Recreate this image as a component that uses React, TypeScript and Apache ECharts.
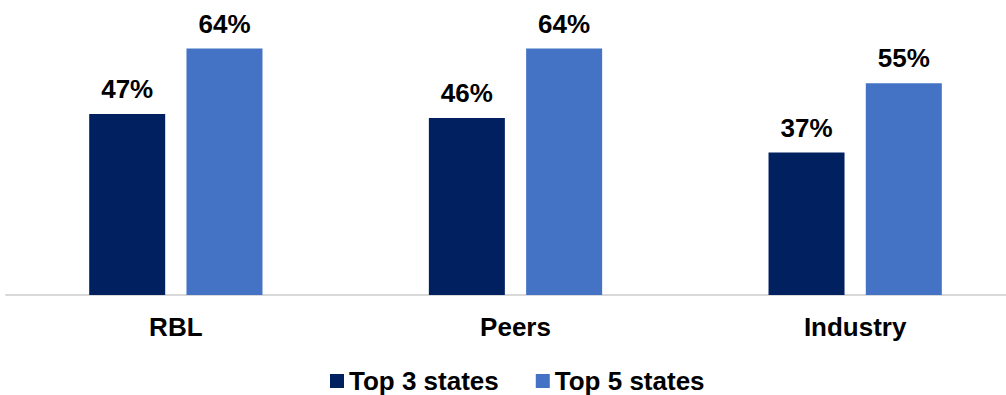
import React, { useEffect, useRef } from "react";
import * as echarts from "echarts";

const categories = ["RBL", "Peers", "Industry"];
const top3States = [47, 46, 37];
const top5States = [64, 64, 55];
const seriesNames = ["Top 3 states", "Top 5 states"];

export default function App() {
  const ref = useRef<HTMLDivElement>(null);
  useEffect(() => {
    if (!ref.current) return;
    const chart = echarts.init(ref.current, null, { renderer: "svg" });
    const font = "'Liberation Sans', Arial, sans-serif";
    const labelStyle = {
      show: true,
      position: "top" as const,
      distance: 12,
      formatter: "{c}%",
      color: "#000000",
      fontSize: 26,
      fontWeight: "bold" as const,
      fontFamily: font,
    };
    chart.setOption({
      animation: false,
      backgroundColor: "#ffffff",
      grid: {
        left: 6,
        width: 1019,
        top: 25.5,
        height: 269.5,
        containLabel: false,
        outerBoundsMode: "none",
      },
      legend: {
        left: 330,
        top: 368,
        padding: 0,
        itemWidth: 14,
        itemHeight: 14,
        itemGap: 37,
        icon: "rect",
        textStyle: {
          color: "#000000",
          fontSize: 26,
          fontWeight: "bold",
          fontFamily: font,
        },
        data: seriesNames,
      },
      xAxis: {
        type: "category",
        data: categories,
        axisTick: { show: false },
        axisLine: { lineStyle: { color: "#D9D9D9", width: 2 } },
        axisLabel: {
          margin: 19,
          color: "#000000",
          fontSize: 26,
          fontWeight: "bold",
          fontFamily: font,
        },
      },
      yAxis: {
        type: "value",
        min: 0,
        max: 70,
        show: false,
        splitLine: { show: false },
      },
      series: [
        {
          name: seriesNames[0],
          type: "bar",
          data: top3States,
          barWidth: 76,
          barGap: "28%",
          itemStyle: { color: "#002060" },
          label: labelStyle,
        },
        {
          name: seriesNames[1],
          type: "bar",
          data: top5States,
          barWidth: 76,
          barGap: "28%",
          itemStyle: { color: "#4472C4" },
          label: labelStyle,
        },
      ],
    });
    return () => chart.dispose();
  }, []);
  return (
    <div
      ref={ref}
      style={{ position: "absolute", left: 0, top: 0, width: 1006, height: 395 }}
    />
  );
}
